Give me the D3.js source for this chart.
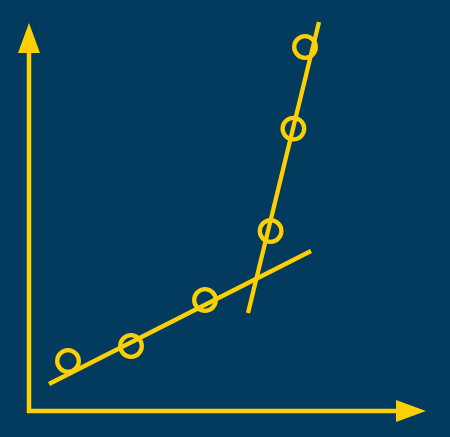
<!DOCTYPE html>
<html><head><meta charset="utf-8">
<script src="https://cdn.jsdelivr.net/npm/d3@7"></script>
<style>html,body{margin:0;padding:0;background:#023b5d;}svg{display:block;}</style>
</head><body>
<script>
// Data (abstract units)
const pointsX = [9.75, 25.5, 44, 60.4, 66.1, 69];
const pointsY = [12.5, 16.25, 27.75, 45, 70.6, 91];
const lineLowX = [5, 70.5];
const lineLowY = [6.75, 40];
const lineSteepX = [54.75, 72.5];
const lineSteepY = [24.5, 97.25];

const W = 450, H = 437;
const bg = "#023b5d", yellow = "#ffd000";
const x = d3.scaleLinear().domain([0, 100]).range([29, 429]);
const y = d3.scaleLinear().domain([0, 100]).range([411, 11]);

const svg = d3.select("body").append("svg").attr("width", W).attr("height", H);
svg.append("rect").attr("width", W).attr("height", H).attr("fill", bg);

// Axes with arrowheads
svg.append("line").attr("x1", x(0)).attr("x2", x(0)).attr("y1", y(-0.5)).attr("y2", y(90))
  .attr("stroke", yellow).attr("stroke-width", 4.5);
svg.append("path").attr("d", `M${x(0)},${y(97)} L${x(-2.75)},${y(89.5)} L${x(2.75)},${y(89.5)} Z`).attr("fill", yellow);
svg.append("line").attr("x1", x(-0.5)).attr("x2", x(93)).attr("y1", y(0)).attr("y2", y(0))
  .attr("stroke", yellow).attr("stroke-width", 4.5);
svg.append("path").attr("d", `M${x(99.25)},${y(0)} L${x(91.75)},${y(2.75)} L${x(91.75)},${y(-2.75)} Z`).attr("fill", yellow);

const lineGen = d3.line().x(d => x(d[0])).y(d => y(d[1]));
svg.append("path").attr("d", lineGen(d3.zip(lineLowX, lineLowY)))
  .attr("stroke", yellow).attr("stroke-width", 4.3).attr("fill", "none");
svg.append("path").attr("d", lineGen(d3.zip(lineSteepX, lineSteepY)))
  .attr("stroke", yellow).attr("stroke-width", 4.3).attr("fill", "none");

svg.selectAll("circle.pt").data(d3.zip(pointsX, pointsY)).join("circle")
  .attr("class", "pt")
  .attr("cx", d => x(d[0])).attr("cy", d => y(d[1])).attr("r", 10.8)
  .attr("fill", "none").attr("stroke", yellow).attr("stroke-width", 4.3);
</script>
</body></html>
